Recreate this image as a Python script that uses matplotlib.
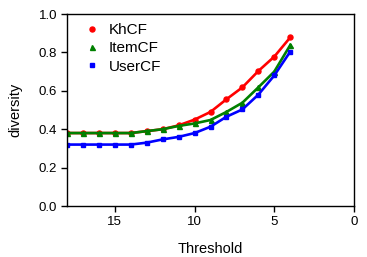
import matplotlib
matplotlib.use("Agg")
import matplotlib.pyplot as plt

plt.rcParams['font.family'] = ['Liberation Sans', 'DejaVu Sans']

threshold = [18, 17, 16, 15, 14, 13, 12, 11, 10, 9, 8, 7, 6, 5, 4]
khcf = [0.38, 0.38, 0.38, 0.38, 0.38, 0.39, 0.40, 0.42, 0.45, 0.49, 0.556, 0.618, 0.703, 0.778, 0.878]
itemcf = [0.38, 0.38, 0.38, 0.38, 0.38, 0.39, 0.40, 0.417, 0.43, 0.448, 0.49, 0.538, 0.618, 0.70, 0.838]
usercf = [0.32, 0.32, 0.32, 0.32, 0.32, 0.33, 0.347, 0.36, 0.38, 0.413, 0.465, 0.503, 0.58, 0.68, 0.804]

fig = plt.figure(figsize=(3.67, 2.57), dpi=100)
ax = fig.add_axes([0.1826, 0.1984, 0.782, 0.7471])

ax.plot(threshold, khcf, color='red', marker='o', markersize=3.6, linewidth=1.9, label='KhCF')
ax.plot(threshold, itemcf, color='green', marker='^', markersize=3.6, linewidth=1.9, label='ItemCF')
ax.plot(threshold, usercf, color='blue', marker='s', markersize=3.3, linewidth=1.9, label='UserCF')

ax.set_xlim(18, 0)
ax.set_ylim(0, 1.0)
ax.set_xticks([15, 10, 5, 0])
ax.set_yticks([0.0, 0.2, 0.4, 0.6, 0.8, 1.0])
ax.set_yticklabels(['0.0', '0.2', '0.4', '0.6', '0.8', '1.0'])
ax.tick_params(direction='out', length=4.5, width=1, labelsize=9.5, pad=2.5)
for s in ax.spines.values():
    s.set_linewidth(1)

ax.set_xlabel('Threshold', fontsize=10.5, labelpad=10)
ax.set_ylabel('diversity', fontsize=10.5, labelpad=12)

# legend shows markers only
leg = ax.legend(loc='upper left', frameon=False, fontsize=11, handlelength=1.0,
                handletextpad=0.6, labelspacing=0.28, borderaxespad=0.0,
                bbox_to_anchor=(0.04, 0.985), numpoints=1)
for h in leg.legend_handles:
    h.set_linestyle('None')

fig.savefig('out.png', dpi=100)
